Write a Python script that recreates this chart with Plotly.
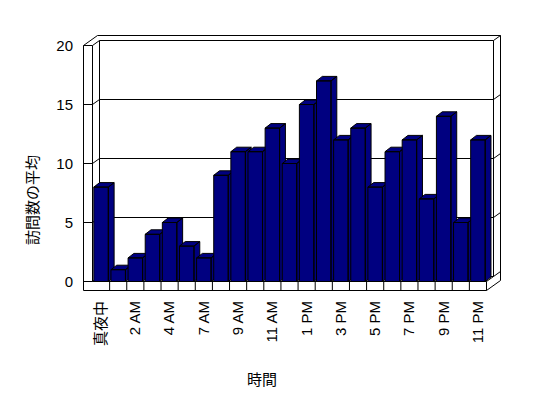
import plotly.graph_objects as go

# ---------------- data ----------------
categories = ["真夜中", "1 AM", "2 AM", "3 AM", "4 AM", "5 AM", "7 AM", "8 AM",
              "9 AM", "10 AM", "11 AM", "12 PM", "1 PM", "2 PM", "3 PM", "4 PM",
              "5 PM", "6 PM", "7 PM", "8 PM", "9 PM", "10 PM", "11 PM"]
visits = [8, 1, 2, 4, 5, 3, 2, 9, 11, 11, 13, 10, 15, 17, 12, 13, 8, 11, 12, 7, 14, 5, 12]
y_ticks = [0, 5, 10, 15, 20]
x_title = "時間"
y_title = "訪問数の平均"

# ---------------- layout geometry (figure px; page adds an 8px body margin) ----------------
W, H = 548, 398
OFF = 8
ML, MR, MT, MB = 74, 52, 25, 113
PW = W - ML - MR
PH = H - MT - MB
n = len(visits)
XPX = 394.0 / n     # px per category
YPX = 11.8          # px per value unit
LEFT_EDGE = 84.5    # px of the front-left category boundary
CAT0 = LEFT_EDGE + XPX / 2
Y0 = 273.5          # px of value 0
x_lo = -(CAT0 - ML) / XPX
x_hi = x_lo + PW / XPX
y_hi = (Y0 - MT) / YPX
y_lo = y_hi - PH / YPX

YMAX = y_ticks[-1]
XL, XR = -0.5, n - 0.5
DX, DY = 7.0 / XPX, 5.0 / YPX          # wall depth
WT, FT = 9.0 / XPX, 9.0 / YPX          # wall / floor thickness
BW = 14.5 / XPX                         # bar width
BDX, BDY = 5.8 / XPX, 4.5 / YPX        # bar depth

NAVY = "#000080"
fig = go.Figure()

shapes = []


def seg(x0, y0, x1, y1):
    shapes.append(dict(type="line", xref="x", yref="y", x0=x0, y0=y0, x1=x1, y1=y1,
                       line=dict(color="black", width=1), layer="below"))


# back wall
seg(XL + DX, YMAX + DY, XR + DX, YMAX + DY)
seg(XL + DX, DY, XL + DX, YMAX + DY)
seg(XR + DX, DY, XR + DX, YMAX + DY)
for v in y_ticks[:-1]:
    seg(XL + DX, v + DY, XR + DX, v + DY)
# left wall inner face
seg(XL, 0, XL, YMAX)
for v in y_ticks:
    seg(XL, v, XL + DX, v + DY)
    seg(XL - WT, v, XL, v)
# left wall front face outer edge
seg(XL - WT, -FT, XL - WT, YMAX)
# top of walls
seg(XL - WT, YMAX, XL - WT + 2 * DX, YMAX + 2 * DY)
seg(XL - WT + 2 * DX, YMAX + 2 * DY, XR + 2 * DX, YMAX + 2 * DY)
# right side face of back wall
for v in y_ticks:
    seg(XR + DX, v + DY, XR + 2 * DX, v + 2 * DY)
seg(XR + 2 * DX, YMAX + 2 * DY, XR + 2 * DX, 2 * DY - FT)
# floor
seg(XL, 0, XR, 0)
seg(XL - WT, -FT, XR, -FT)
seg(XR, -FT, XR, 0)
seg(XR, -FT, XR + 2 * DX, 2 * DY - FT)
seg(XR, 0, XR + DX, DY)
for k in range(1, n):
    seg(XL + k, -FT, XL + k, 0)

# ---------------- bars (3-D columns) ----------------
for i, (cat, v) in enumerate(zip(categories, visits)):
    x0, x1 = i - BW / 2, i + BW / 2
    side_x = [x1, x1 + BDX, x1 + BDX, x1, x1]
    side_y = [0, BDY, v + BDY, v, 0]
    top_x = [x0, x1, x1 + BDX, x0 + BDX, x0]
    top_y = [v, v, v + BDY, v + BDY, v]
    front_x = [x0, x1, x1, x0, x0]
    front_y = [0, 0, v, v, 0]
    xs = side_x + [None] + top_x + [None] + front_x
    ys = side_y + [None] + top_y + [None] + front_y
    fig.add_trace(go.Scatter(
        x=xs, y=ys, mode="lines", fill="toself", fillcolor=NAVY,
        line=dict(color="black", width=1), name=cat, showlegend=False,
        hoveron="fills", hoverinfo="text", text=f"{cat}: {v}"))

FONT = "Liberation Sans, Arial, Noto Sans CJK JP, sans-serif"


def paper_x(px):
    return (px - OFF - ML) / PW


def paper_y(py):
    return (H - MB - (py - OFF)) / PH


fig.update_layout(
    width=W, height=H,
    margin=dict(l=ML, r=MR, t=MT, b=MB, pad=0),
    paper_bgcolor="white", plot_bgcolor="white",
    font=dict(family=FONT, size=15, color="black"),
    shapes=shapes,
    showlegend=False,
    xaxis=dict(range=[x_lo, x_hi], tickvals=list(range(0, n, 2)),
               ticktext=categories[::2], tickangle=-90, showgrid=False,
               zeroline=False, showline=False, ticks="", ticklabelstandoff=4,
               fixedrange=True, automargin=False),
    yaxis=dict(range=[y_lo, y_hi], tickvals=y_ticks, showgrid=False,
               zeroline=False, showline=False, ticks="", ticklabelstandoff=8,
               fixedrange=True, automargin=False),
    annotations=[
        dict(text=x_title, xref="paper", yref="paper", x=paper_x(262), y=paper_y(378),
             showarrow=False, xanchor="center", yanchor="middle",
             font=dict(family="Noto Sans CJK JP", size=15)),
        dict(text=y_title, xref="paper", yref="paper", x=paper_x(32), y=paper_y(200),
             showarrow=False, textangle=-90, xanchor="center", yanchor="middle",
             font=dict(family="Noto Sans CJK JP", size=15)),
    ],
)

fig.write_html("out.html")
